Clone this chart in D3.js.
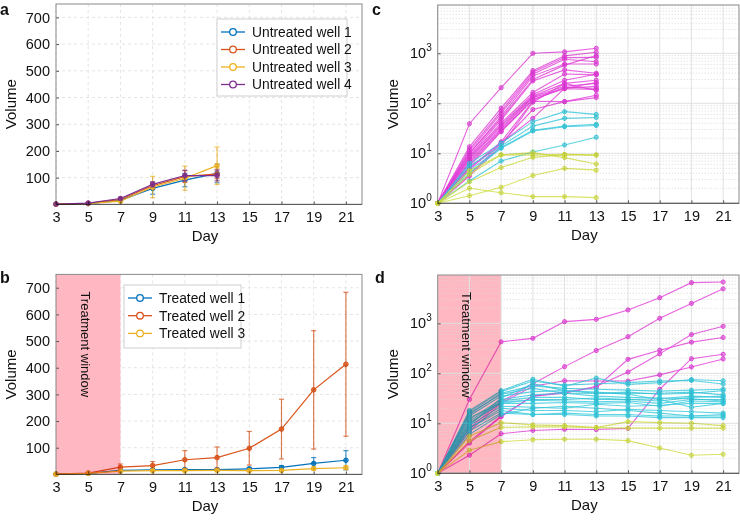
<!DOCTYPE html>
<html>
<head>
<meta charset="utf-8">
<script src="https://cdn.jsdelivr.net/npm/d3@7"></script>
<style>
	body { margin: 0; background: #fff; }
	text { font-family: "Liberation Sans", Arial, Helvetica, sans-serif; fill: #111; }
</style>
</head>
<body>
<svg id="fig" width="740" height="520"></svg>
<script>
// ---- data ----
const days_short = [3, 5, 7, 9, 11, 13];
const days_long = [3, 5, 7, 9, 11, 13, 15, 17, 19, 21];
const x_ticks = [3, 5, 7, 9, 11, 13, 15, 17, 19, 21];
const y_ticks_lin = [100, 200, 300, 400, 500, 600, 700];
const y_ticks_log = [1, 10, 100, 1000];

const untreated_labels = ["Untreated well 1", "Untreated well 2", "Untreated well 3", "Untreated well 4"];
const untreated_mean = [
	[1, 3, 15, 60, 91, 116],
	[1, 4, 19, 70, 104, 114],
	[1, 3, 12, 65, 98, 145],
	[1, 5, 22, 75, 108, 108],
];
const untreated_err = [
	[0, 1, 3, 22, 25, 35],
	[0, 1, 4, 12, 22, 18],
	[0, 1, 4, 40, 45, 70],
	[0, 1, 4, 10, 20, 20],
];

const treated_labels = ["Treated well 1", "Treated well 2", "Treated well 3"];
const treated_mean = [
	[1, 4, 15, 17, 18, 18, 21, 26, 41, 53],
	[1, 5, 27, 33, 55, 63, 98, 170, 317, 413],
	[1, 4, 12, 14, 14, 15, 14, 15, 22, 25],
];
const treated_err = [
	[0, 1, 3, 3, 3, 4, 5, 7, 22, 36],
	[0, 1, 12, 15, 34, 40, 63, 112, 222, 270],
	[0, 1, 3, 3, 3, 3, 3, 3, 6, 7],
];

// individual tumours, untreated (panel c)
const c_magenta = [
	[1, 39, 205, 1000, 1070, 1260],
	[1, 13.5, 80, 450, 890, 1050],
	[1, 12, 70, 420, 820, 830],
	[1, 11, 63, 380, 760, 680],
	[1, 10, 55, 350, 610, 610],
	[1, 10, 50, 300, 580, 900],
	[1, 9, 46, 280, 465, 400],
	[1, 8.5, 40, 165, 385, 370],
	[1, 8, 37, 150, 290, 380],
	[1, 7.6, 35, 140, 250, 290],
	[1, 7, 32, 135, 220, 250],
	[1, 6.5, 30, 130, 200, 220],
	[1, 6, 28, 120, 195, 190],
	[1, 5.5, 27, 115, 210, 200],
	[1, 5, 17, 110, 108, 145],
	[1, 4.8, 16, 75, 108, 130],
	[1, 3.7, 16, 50, 200, 260],
	[1, 3.5, 14, 105, 250, 180],
];
const c_cyan = [
	[1, 6.3, 16, 43, 68, 60],
	[1, 5.5, 14, 35, 50, 52],
	[1, 4.5, 13, 29, 35, 38],
	[1, 4, 12.6, 28, 34, 36],
	[1, 2.8, 7, 10.6, 14.7, 21],
];
const c_yellow = [
	[1, 4.5, 9.3, 9.3, 9.5, 9.3],
	[1, 3.8, 9.3, 10.3, 8.2, 6.1],
	[1, 2.7, 5.2, 8.3, 9.4, 9.2],
	[1, 1.42, 2.09, 3.6, 5, 4.6],
	[1, 2.0, 1.63, 1.36, 1.36, 1.3],
];

// individual tumours, treated (panel d)
const d_magenta = [
	[1, 30, 427, 500, 1080, 1200, 1850, 3250, 6500, 6700],
	[1, 8, 27, 62, 136, 285, 540, 1260, 2500, 4900],
	[1, 4.3, 14, 35, 42, 52, 190, 290, 420, 520],
	[1, 4.0, 13.5, 35, 40, 55, 106, 245, 595, 870],
	[1, 7, 25, 55, 71, 70, 70, 93, 134, 194],
	[1, 2.3, 6.2, 7.2, 7.6, 7.5, 7.9, 48, 196, 240],
];
const d_cyan = [
	[1, 18, 45, 76, 55, 80, 60, 65, 75, 71],
	[1, 17, 43, 70, 58, 62, 65, 70, 72, 61],
	[1, 15, 40, 56, 50, 48, 46, 44, 46, 48],
	[1, 14, 35, 43, 45, 40, 42, 38, 40, 45],
	[1, 12, 30, 37, 40, 40, 39, 40, 42, 37],
	[1, 11, 28, 33, 33, 30, 30, 31, 35, 33],
	[1, 10, 27, 29, 28, 27, 28, 25, 30, 30],
	[1, 10, 25, 25, 26, 25, 26, 22, 28, 27],
	[1, 9, 22, 21, 20, 24, 22, 23, 25, 25],
	[1, 8, 20, 18, 18, 17, 19, 18, 17, 16],
	[1, 8, 18, 15, 16, 15, 15, 14, 14, 14],
	[1, 7, 16, 15, 15, 14, 14, 13, 13, 13],
	[1, 9, 32, 62, 45, 42, 38, 30, 21, 25],
	[1, 13, 25, 30, 30, 32, 30, 28, 33, 35],
	[1, 6, 15, 20, 22, 20, 18, 16, 14, 15],
	[1, 16, 38, 50, 40, 35, 33, 32, 31, 28],
];
const d_yellow = [
	[1, 5.5, 10.3, 9.3, 9, 8.2, 10.8, 10.3, 10, 9],
	[1, 4.5, 8.3, 8.5, 8.5, 8.2, 8, 8, 8, 8],
	[1, 2.9, 4.3, 4.7, 4.8, 4.8, 4.5, 3.2, 2.3, 2.4],
];

const well_colors = ["#0072BD", "#D95319", "#EDB120", "#7E2F8E"];
const magenta = "#e23cd8";
const cyan = "#35c8dc";
const yellow = "#cfdc3f";
const window_fill = "#ffb7c1";

const svg = d3.select("#fig");

// frame, grid, ticks and labels shared by all four panels
function draw_frame(g, box, x, y, is_log, window_end) {
	const grid = g.append("g");
	x_ticks.forEach((t) => {
		grid.append("line")
			.attr("x1", x(t)).attr("x2", x(t))
			.attr("y1", box.top).attr("y2", box.bottom)
			.attr("stroke", is_log ? "#e2e2e2" : "#e4e4e4")
			.attr("stroke-dasharray", is_log ? null : "3,3");
	});
	if (is_log) {
		y.ticks().forEach((t) => {
			const major = Math.abs(Math.log10(t) % 1) < 1e-9;
			grid.append("line")
				.attr("x1", box.left).attr("x2", box.right)
				.attr("y1", y(t)).attr("y2", y(t))
				.attr("stroke", major ? "#e0e0e0" : "#d8d8d8")
				.attr("stroke-dasharray", major ? null : "1,2");
		});
	} else {
		y_ticks_lin.forEach((t) => {
			grid.append("line")
				.attr("x1", box.left).attr("x2", box.right)
				.attr("y1", y(t)).attr("y2", y(t))
				.attr("stroke", "#e4e4e4")
				.attr("stroke-dasharray", "3,3");
		});
	}
	if (window_end) {
		const wr = g.append("rect")
			.attr("x", x(3)).attr("y", box.top)
			.attr("width", x(window_end) - x(3))
			.attr("height", box.bottom - box.top)
			.attr("fill", window_fill);
		if (is_log) wr.lower(); // dotted grid shows through on the log panel
		g.append("text")
			.attr("transform", `translate(${(x(3) + x(window_end)) / 2 - 7.5},${box.top + 17}) rotate(90)`)
			.attr("font-size", 13)
			.text("Treatment window");
	}

	const xa = g.append("g")
		.attr("transform", `translate(0,${box.bottom})`)
		.call(d3.axisBottom(x).tickValues(x_ticks).tickSize(-3).tickPadding(7));
	xa.select(".domain").remove();
	xa.selectAll("line").attr("stroke", "#555");
	xa.selectAll("text").attr("font-size", 14.5).attr("fill", "#111");

	const ya = g.append("g").attr("transform", `translate(${box.left},0)`);
	if (is_log) {
		ya.call(d3.axisLeft(y).tickValues(y_ticks_log).tickSize(-3).tickPadding(6).tickFormat(""));
		ya.selectAll(".tick").each(function (d) {
			const t = d3.select(this).append("text")
				.attr("x", -6).attr("dy", "0.32em")
				.attr("text-anchor", "end").attr("font-size", 14.5).attr("fill", "#111");
			t.append("tspan").text("10");
			t.append("tspan").attr("font-size", 10).attr("dy", "-0.75em").text(Math.round(Math.log10(d)));
		});
	} else {
		ya.call(d3.axisLeft(y).tickValues(y_ticks_lin).tickSize(-3).tickPadding(6));
		ya.selectAll("text").attr("font-size", 14.5).attr("fill", "#111");
	}
	ya.select(".domain").remove();
	ya.selectAll("line").attr("stroke", "#555");

	g.append("rect")
		.attr("x", box.left).attr("y", box.top)
		.attr("width", box.right - box.left).attr("height", box.bottom - box.top)
		.attr("fill", "none").attr("stroke", "#8a8a8a");
	g.append("line")
		.attr("x1", box.left).attr("x2", box.right)
		.attr("y1", box.bottom).attr("y2", box.bottom)
		.attr("stroke", "#555");

	g.append("text")
		.attr("transform", `translate(${box.left - 40},${(box.top + box.bottom) / 2}) rotate(-90)`)
		.attr("text-anchor", "middle").attr("font-size", 15)
		.text("Volume");
	g.append("text")
		.attr("x", (box.left + box.right) / 2 - 4).attr("y", box.bottom + 37)
		.attr("text-anchor", "middle").attr("font-size", 15)
		.text("Day");
	g.append("text")
		.attr("x", box.letter[0]).attr("y", box.letter[1])
		.attr("font-size", 16).attr("font-weight", "bold")
		.text(box.name);
}

function mean_panel(box, days, means, errs, labels, legend, window_end) {
	const g = svg.append("g");
	const x = d3.scaleLinear().domain([3, 22]).range([box.left, box.right]);
	const y = d3.scaleLinear().domain([0, 750]).range([box.bottom, box.top]);
	draw_frame(g, box, x, y, false, window_end);

	const data_g = g.append("g").style("mix-blend-mode", "multiply");
	const line = d3.line().x((d) => x(d[0])).y((d) => y(d[1]));
	means.forEach((m, i) => {
		const col = well_colors[i];
		const pts = days.map((d, j) => [d, m[j], errs[i][j]]);
		const eb = data_g.append("g").attr("stroke", col).attr("stroke-opacity", 0.75).attr("stroke-width", 1.2);
		pts.filter((p) => p[2] > 0).forEach((p) => {
			const cx = x(p[0]);
			const lo = y(Math.max(0, p[1] - p[2]));
			const hi = y(p[1] + p[2]);
			eb.append("line").attr("x1", cx).attr("x2", cx).attr("y1", lo).attr("y2", hi);
			eb.append("line").attr("x1", cx - 2.5).attr("x2", cx + 2.5).attr("y1", lo).attr("y2", lo);
			eb.append("line").attr("x1", cx - 2.5).attr("x2", cx + 2.5).attr("y1", hi).attr("y2", hi);
		});
		data_g.append("path").datum(pts)
			.attr("d", line).attr("fill", "none")
			.attr("stroke", col).attr("stroke-width", 1.2);
		data_g.selectAll(null).data(pts).join("circle")
			.attr("cx", (d) => x(d[0])).attr("cy", (d) => y(d[1]))
			.attr("r", 2.3).attr("fill", col).attr("stroke", col).attr("fill-opacity", 0.8);
	});

	// legend
	const lg = g.append("g");
	lg.append("rect")
		.attr("x", legend.x).attr("y", legend.y)
		.attr("width", legend.w).attr("height", legend.h)
		.attr("fill", "#fff").attr("stroke", "#cfcfcf");
	labels.forEach((lab, i) => {
		const yy = legend.y + 13 + i * legend.step;
		lg.append("line")
			.attr("x1", legend.x + 4).attr("x2", legend.x + 28)
			.attr("y1", yy).attr("y2", yy)
			.attr("stroke", well_colors[i]).attr("stroke-width", 1.3);
		lg.append("circle")
			.attr("cx", legend.x + 16).attr("cy", yy).attr("r", 3.3)
			.attr("fill", "#fff").attr("stroke", well_colors[i]).attr("stroke-width", 1.3);
		lg.append("text")
			.attr("x", legend.x + 35).attr("y", yy).attr("dy", "0.35em")
			.attr("font-size", 13.8).text(lab);
	});
}

function spaghetti_panel(box, days, groups, window_end) {
	const g = svg.append("g");
	const x = d3.scaleLinear().domain([3, 22]).range([box.left, box.right]);
	const y = d3.scaleLog().domain([1, 9250]).range([box.bottom, box.top]);
	draw_frame(g, box, x, y, true, window_end);

	const data_g = g.append("g").style("mix-blend-mode", "multiply");
	const line = d3.line().x((d) => x(d[0])).y((d) => y(d[1]));
	groups.forEach(([series, col]) => {
		series.forEach((s) => {
			const pts = days.map((d, j) => [d, s[j]]);
			data_g.append("path").datum(pts)
				.attr("d", line).attr("fill", "none")
				.attr("stroke", col).attr("stroke-width", 1.1).attr("stroke-opacity", 0.8);
			data_g.selectAll(null).data(pts).join("circle")
				.attr("cx", (d) => x(d[0])).attr("cy", (d) => y(d[1]))
				.attr("r", 2.1).attr("fill", col).attr("fill-opacity", 0.55)
				.attr("stroke", col).attr("stroke-opacity", 0.85);
		});
	});
}

mean_panel(
	{ left: 56, right: 362, top: 4, bottom: 204.4, name: "a", letter: [0, 15] },
	days_short, untreated_mean, untreated_err, untreated_labels,
	{ x: 217, y: 19, w: 130, h: 77, step: 17.5 }, null
);
mean_panel(
	{ left: 56, right: 362, top: 274.4, bottom: 474.4, name: "b", letter: [0, 283] },
	days_long, treated_mean, treated_err, treated_labels,
	{ x: 124, y: 285, w: 117, h: 63, step: 17.7 }, 7
);
spaghetti_panel(
	{ left: 437.7, right: 739, top: 5, bottom: 203.3, name: "c", letter: [372, 15] },
	days_short, [[c_magenta, magenta], [c_cyan, cyan], [c_yellow, yellow]], null
);
spaghetti_panel(
	{ left: 437.7, right: 739, top: 275, bottom: 473.3, name: "d", letter: [375, 283] },
	days_long, [[d_magenta, magenta], [d_cyan, cyan], [d_yellow, yellow]], 7
);
</script>
</body>
</html>
